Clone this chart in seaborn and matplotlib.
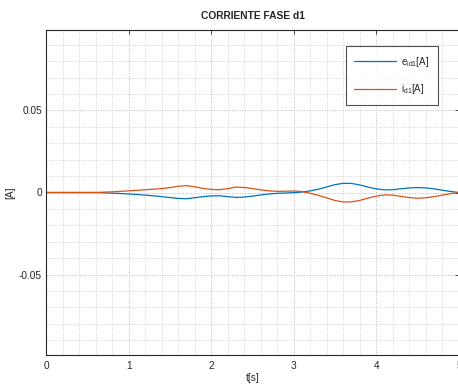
import numpy as np
import pandas as pd
import matplotlib
matplotlib.use("Agg")
import matplotlib.pyplot as plt
import seaborn as sns
from matplotlib.ticker import MultipleLocator, FixedLocator

t = [round(0.1 * i, 1) for i in range(51)]
e_id1 = [0, 0, 0, 0, 0, 0, 0, -0.2, -0.4, -0.6,
         -0.9, -1.2, -1.6, -2.0, -2.5, -3.1, -3.6, -3.8, -3.2, -2.5,
         -2.1, -2.0, -2.5, -3.0, -2.8, -2.2, -1.5, -0.9, -0.5, -0.3,
         -0.1, 0.3, 1.0, 2.0, 3.4, 4.8, 5.6, 5.5, 4.6, 3.3,
         2.2, 1.6, 1.7, 2.3, 2.8, 3.0, 2.8, 2.2, 1.4, 0.6, 0]
i_d1 = [0, 0, 0, 0, 0, 0, 0, 0.2, 0.4, 0.7,
        1.0, 1.3, 1.7, 2.0, 2.4, 3.0, 3.8, 4.2, 3.5, 2.5,
        1.9, 1.7, 2.4, 3.3, 3.1, 2.4, 1.6, 1.0, 0.7, 0.8,
        0.9, 0.6, -0.5, -1.8, -3.3, -4.9, -5.8, -5.7, -4.8, -3.4,
        -2.2, -1.5, -1.6, -2.4, -3.1, -3.5, -3.2, -2.5, -1.6, -0.7, 0]
e_id1 = [v / 1000 for v in e_id1]
i_d1 = [v / 1000 for v in i_d1]
labels = [r"e$_{id1}$[A]", r"i$_{d1}$[A]"]
xticks = [0, 1, 2, 3, 4, 5]
yticks = [-0.05, 0, 0.05]
ytick_labels = ["-0.05", "0", "0.05"]

df = pd.DataFrame({
    "t": t * 2,
    "v": e_id1 + i_d1,
    "s": [labels[0]] * len(t) + [labels[1]] * len(t),
})

sns.set_style("white")
plt.rcParams["font.family"] = ["Liberation Sans", "DejaVu Sans"]
plt.rcParams["mathtext.fontset"] = "custom"
plt.rcParams["mathtext.rm"] = "Liberation Sans"
plt.rcParams["mathtext.it"] = "Liberation Sans"

fig = plt.figure(figsize=(4.58, 3.85), dpi=100)
ax = fig.add_axes([46 / 458, 1 - 355 / 385, 413 / 458, 325 / 385])

sns.lineplot(data=df, x="t", y="v", hue="s", palette=["#0072BD", "#D95319"],
             linewidth=0.9, ax=ax, legend=True)

ax.set_xlim(0, 5)
ax.set_ylim(-0.099, 0.099)
ax.xaxis.set_major_locator(FixedLocator(xticks))
ax.set_xticklabels([str(x) for x in xticks])
ax.yaxis.set_major_locator(FixedLocator(yticks))
ax.set_yticklabels(ytick_labels)
ax.xaxis.set_minor_locator(MultipleLocator(0.2))
ax.yaxis.set_minor_locator(MultipleLocator(0.01))

ax.grid(True, which="major", linestyle=":", color="#b8b8b8", linewidth=0.7)
ax.grid(True, which="minor", linestyle=":", color="#c8c8c8", linewidth=0.6)
ax.tick_params(which="both", direction="in", top=True, right=True,
               labelsize=7.3, colors="#262626", length=3, width=0.6)
ax.tick_params(axis="x", which="major", pad=4.5)
ax.tick_params(axis="y", which="major", pad=3)
ax.tick_params(which="minor", length=0)
for s in ax.spines.values():
    s.set_color("#262626")
    s.set_linewidth(0.8)

ax.set_xlabel("t[s]", fontsize=7.3, color="#262626", labelpad=1)
ax.set_ylabel("[A]", fontsize=7.3, color="#262626", labelpad=2.5)
ax.set_title("CORRIENTE FASE d1", fontsize=7.4, fontweight="bold", pad=8)

leg = ax.legend(loc="upper right", bbox_to_anchor=(0.949, 0.951),
                borderaxespad=0, fontsize=7, frameon=True, fancybox=False,
                handlelength=4.3, labelspacing=1.4, borderpad=0.9,
                handletextpad=0.5)
leg.get_frame().set_edgecolor("#262626")
leg.get_frame().set_linewidth(0.8)

fig.savefig("out.png", dpi=100)
